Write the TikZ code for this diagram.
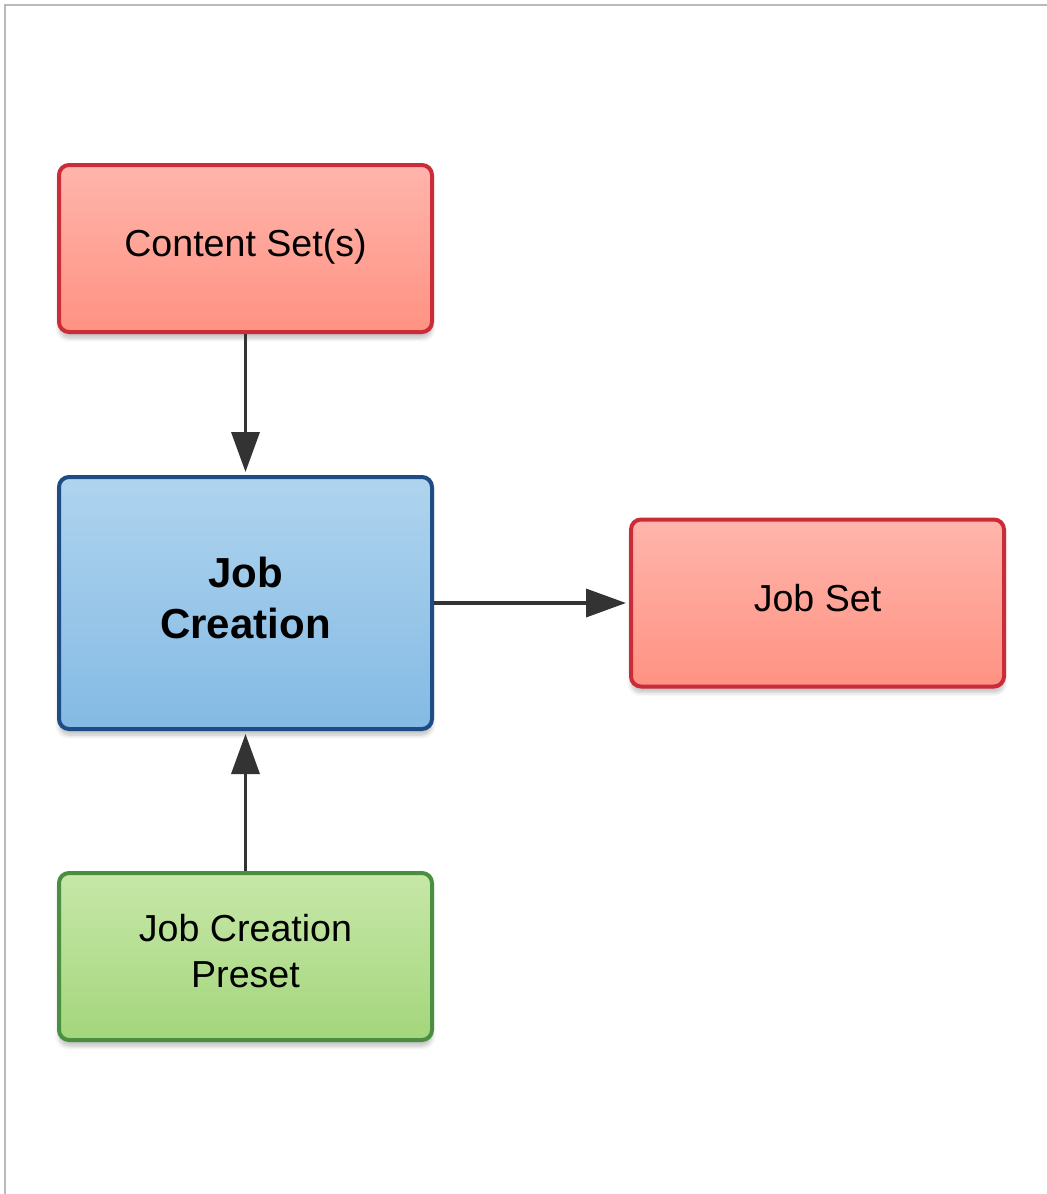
\documentclass[tikz,border=0pt]{standalone}
\usepackage{fontspec}
\setmainfont{Liberation Sans}
\usepackage{xcolor}
\usetikzlibrary{positioning}
\usetikzlibrary{arrows.meta,shadows.blur}

\definecolor{redtop}{HTML}{FFB5AC}
\definecolor{redbot}{HTML}{FF9282}
\definecolor{redline}{HTML}{CC2B38}
\definecolor{bluetop}{HTML}{AFD4EE}
\definecolor{bluebot}{HTML}{84BAE4}
\definecolor{blueline}{HTML}{1E4D86}
\definecolor{greentop}{HTML}{C7E7A9}
\definecolor{greenbot}{HTML}{A3D67B}
\definecolor{greenline}{HTML}{4A8E40}
\definecolor{arrowgray}{HTML}{333333}

\begin{document}
\begin{tikzpicture}[
    basic/.style={draw,line width=2pt,rounded corners=5pt,minimum width=186.5pt,
        minimum height=83.5pt,align=center,text depth=5.5pt,font=\fontsize{18.8}{23}\selectfont,
        blur shadow={shadow xshift=0pt,shadow yshift=-3pt,shadow blur steps=6,shadow opacity=25}},
    dataset/.style={basic,draw=redline,top color=redtop,bottom color=redbot},
    process/.style={basic,draw=blueline,top color=bluetop,bottom color=bluebot,
        minimum height=126pt,font=\fontsize{21}{25.5}\selectfont\bfseries},
    preset/.style={basic,draw=greenline,top color=greentop,bottom color=greenbot},
    flow/.style={draw=arrowgray,line width=1.8pt,shorten >=1.5pt,
        -{Triangle[length=20pt,width=14pt]}},
]
    % frame
    \useasboundingbox (0,0) rectangle (523.5pt,-597pt);
    \draw[gray!55,line width=1pt] (2.5pt,-597pt) -- (2.5pt,-2.5pt) -- (523.5pt,-2.5pt);

    \node[process] (creation) at (122.75pt,-301.5pt) {Job\\Creation};
    \node[dataset,above=70.5pt of creation] (content) {Content Set(s)};
    \node[dataset,right=97.5pt of creation] (jobset) {Job Set};
    \node[preset,below=70pt of creation] (preset) {Job Creation\\Preset};

    \path[flow] (content) -- (creation);
    \path[flow] (creation) -- (jobset);
    \path[flow] (preset) -- (creation);
\end{tikzpicture}
\end{document}
